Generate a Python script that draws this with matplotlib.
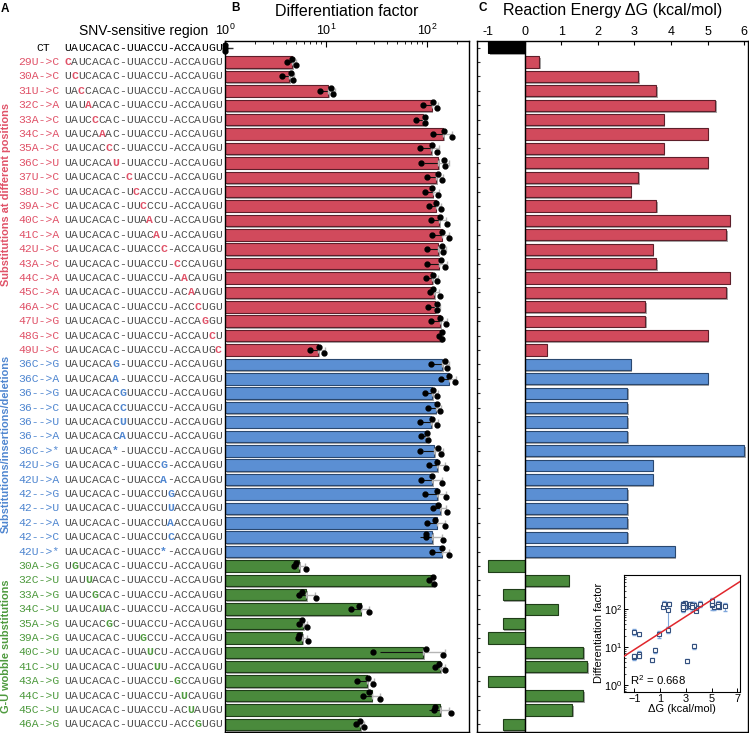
import numpy as np
import matplotlib
matplotlib.use("Agg")
import matplotlib.pyplot as plt
import matplotlib.patheffects as pe
from matplotlib.ticker import LogLocator, NullFormatter, LogFormatterSciNotation

plt.rcParams['font.family'] = ['Liberation Sans', 'DejaVu Sans']
plt.rcParams['mathtext.fontset'] = 'custom'
plt.rcParams['mathtext.rm'] = 'Liberation Sans'
plt.rcParams['mathtext.it'] = 'Liberation Sans:italic'
plt.rcParams['mathtext.bf'] = 'Liberation Sans:bold'

# ---------------- data ----------------
reference_seq = "UAUCACAC-UUACCU-ACCAUGU"

labels = ["CT",
          "29U->C", "30A->C", "31U->C", "32C->A", "33A->C", "34C->A", "35A->C",
          "36C->U", "37U->C", "38U->C", "39A->C", "40C->A", "41C->A", "42U->C",
          "43A->C", "44C->A", "45C->A", "46A->C", "47U->G", "48G->C", "49U->C",
          "36C->G", "36C->A", "36-->G", "36-->C", "36-->U", "36-->A", "36C->*",
          "42U->G", "42U->A", "42-->G", "42-->U", "42-->A", "42-->C", "42U->*",
          "30A->G", "32C->U", "33A->G", "34C->U", "35A->G", "39A->G", "40C->U",
          "41C->U", "43A->G", "44C->U", "45C->U", "46A->G"]

sequences = ["UAUCACAC-UUACCU-ACCAUGU",
             "CAUCACAC-UUACCU-ACCAUGU", "UCUCACAC-UUACCU-ACCAUGU", "UACCACAC-UUACCU-ACCAUGU",
             "UAUAACAC-UUACCU-ACCAUGU", "UAUCCCAC-UUACCU-ACCAUGU", "UAUCAAAC-UUACCU-ACCAUGU",
             "UAUCACCC-UUACCU-ACCAUGU", "UAUCACAU-UUACCU-ACCAUGU", "UAUCACAC-CUACCU-ACCAUGU",
             "UAUCACAC-UCACCU-ACCAUGU", "UAUCACAC-UUCCCU-ACCAUGU", "UAUCACAC-UUAACU-ACCAUGU",
             "UAUCACAC-UUACAU-ACCAUGU", "UAUCACAC-UUACCC-ACCAUGU", "UAUCACAC-UUACCU-CCCAUGU",
             "UAUCACAC-UUACCU-AACAUGU", "UAUCACAC-UUACCU-ACAAUGU", "UAUCACAC-UUACCU-ACCCUGU",
             "UAUCACAC-UUACCU-ACCAGGU", "UAUCACAC-UUACCU-ACCAUCU", "UAUCACAC-UUACCU-ACCAUGC",
             "UAUCACAG-UUACCU-ACCAUGU", "UAUCACAA-UUACCU-ACCAUGU", "UAUCACACGUUACCU-ACCAUGU",
             "UAUCACACCUUACCU-ACCAUGU", "UAUCACACUUUACCU-ACCAUGU", "UAUCACACAUUACCU-ACCAUGU",
             "UAUCACA*-UUACCU-ACCAUGU", "UAUCACAC-UUACCG-ACCAUGU", "UAUCACAC-UUACCA-ACCAUGU",
             "UAUCACAC-UUACCUGACCAUGU", "UAUCACAC-UUACCUUACCAUGU", "UAUCACAC-UUACCUAACCAUGU",
             "UAUCACAC-UUACCUCACCAUGU", "UAUCACAC-UUACC*-ACCAUGU",
             "UGUCACAC-UUACCU-ACCAUGU", "UAUUACAC-UUACCU-ACCAUGU", "UAUCGCAC-UUACCU-ACCAUGU",
             "UAUCAUAC-UUACCU-ACCAUGU", "UAUCACGC-UUACCU-ACCAUGU", "UAUCACAC-UUGCCU-ACCAUGU",
             "UAUCACAC-UUAUCU-ACCAUGU", "UAUCACAC-UUACUU-ACCAUGU", "UAUCACAC-UUACCU-GCCAUGU",
             "UAUCACAC-UUACCU-AUCAUGU", "UAUCACAC-UUACCU-ACUAUGU", "UAUCACAC-UUACCU-ACCGUGU"]

groups = [0] + [1] * 21 + [2] * 14 + [3] * 12
group_names = ["", "Substitutions at different positions",
               "Substitutions/insertions/deletions", "G-U wobble substitutions"]

df_mean = [1.0,
           4.6, 4.3, 10.5, 111, 90.6, 145, 109, 129, 123, 114, 122, 132, 139, 129, 130,
           113, 118, 120, 134, 138, 8.4,
           140, 164, 113, 122, 109, 97, 117, 126, 113, 125, 134, 124, 113, 139,
           5.4, 111, 6.4, 22, 5.9, 5.8, 92, 134, 25.5, 28.3, 135, 21.7]

df_reps = [[1.0, 1.0, 1.0],
           [4.07, 4.64, 5.05], [3.64, 4.48, 4.69], [8.7, 11.2, 11.8], [92, 115, 124],
           [78, 95, 95], [115, 147, 175], [85, 113, 126], [87, 148, 152], [100, 129, 139],
           [95, 113, 129], [105, 122, 137], [110, 134, 157], [113, 139, 163], [100, 141, 144],
           [100, 136, 152], [97, 115, 125], [107, 114, 133], [103, 125, 126], [110, 134, 155],
           [132, 139, 140], [6.95, 8.6, 9.5],
           [109, 152, 157], [136, 164, 191], [95, 114, 126], [102, 125, 133], [85, 112, 124],
           [88, 100, 101], [86, 128, 136], [104, 125, 154], [88, 112, 141], [95, 125, 155],
           [115, 129, 157], [100, 120, 152], [97, 97, 145], [113, 140, 163],
           [4.85, 5.05, 6.4], [104, 114, 117], [5.4, 5.8, 7.9], [17.7, 21.2, 26.6],
           [5.35, 5.8, 6.5], [5.3, 5.35, 6.6], [29.4, 98, 145], [119, 132, 150],
           [20.2, 26.1, 29.4], [23.1, 26.9, 34.2], [117, 120, 171], [19.7, 21.6, 23.6]]

dG = [-1.0,
      0.4, 3.1, 3.6, 5.2, 3.8, 5.0, 3.8, 5.0, 3.1, 2.9, 3.6, 5.6, 5.5, 3.5, 3.6,
      5.6, 5.5, 3.3, 3.3, 5.0, 0.6,
      2.9, 5.0, 2.8, 2.8, 2.8, 2.8, 6.0, 3.5, 3.5, 2.8, 2.8, 2.8, 2.8, 4.1,
      -1.0, 1.2, -0.6, 0.9, -0.6, -1.0, 1.6, 1.7, -1.0, 1.6, 1.3, -0.6]

fit_intercept = 1.15   # log10(DF) at dG = 0
fit_slope = 0.218      # log10(DF) per kcal/mol
r_squared = 0.668

# ---------------- style ----------------
face = {0: "#000000", 1: "#D14A5C", 2: "#5B8FD3", 3: "#4A8A3C"}
edge = {0: "#000000", 1: "#5E1F2A", 2: "#2A4870", 3: "#1F3D18"}
label_col = {0: "#000000", 1: "#E05268", 2: "#4F86D0", 3: "#4E9A3E"}
seq_gray = "#4d4d4d"

W, H = 749, 733
fig = plt.figure(figsize=(W / 100, H / 100), dpi=100)

def fx(px):
    return px / W

def fy(py):
    return 1 - py / H

top_px, bot_px = 40.5, 731.5
n = len(labels)
ylim = (n - 0.5, -0.5)
rows = np.arange(n)

shadow = [pe.SimplePatchShadow(offset=(1.2, -1.2), shadow_rgbFace="0.62", alpha=0.9), pe.Normal()]

# ---- Panel A (labels) ----
axA = fig.add_axes([0, fy(bot_px), fx(225), fy(top_px) - fy(bot_px)])
axA.set_xlim(0, 225)
axA.set_ylim(*ylim)
axA.axis("off")
char_w = 6.85
seq_x0 = 64.3
for i, (lab, seq, g) in enumerate(zip(labels, sequences, groups)):
    if g == 0:
        axA.text(43, i, lab, ha="center", va="center", family="Liberation Mono",
                 fontsize=8.2, color="#000000")
    else:
        axA.text(59.5, i, lab, ha="right", va="center", family="Liberation Mono",
                 fontsize=8.2, color=label_col[g])
    for k, ch in enumerate(seq):
        diff = ch != reference_seq[k]
        col = label_col[g] if diff else ("#000000" if g == 0 else seq_gray)
        axA.text(seq_x0 + (k + 0.5) * char_w, i, ch, ha="center", va="center",
                 family="Liberation Mono", fontsize=8.2, color=col,
                 fontweight="bold" if diff else "normal")

group_center_row = {1: 10.2, 2: 27.5, 3: 41.6}
for g in (1, 2, 3):
    axA.text(6, group_center_row[g], group_names[g], rotation=90, ha="center", va="center",
             fontsize=7.9, fontweight="bold", color=label_col[g])

fig.text(fx(143.5), fy(30.5), "SNV-sensitive region", ha="center", va="center", fontsize=10)
fig.text(fx(4.5), fy(9), "A", ha="center", va="center", fontsize=8.5, fontweight="bold")
fig.text(fx(235), fy(8), "B", ha="center", va="center", fontsize=8.5, fontweight="bold")
fig.text(fx(483), fy(8), "C", ha="center", va="center", fontsize=8.5, fontweight="bold")

# ---- Panel B ----
axB = fig.add_axes([fx(225), fy(bot_px), fx(469) - fx(225), fy(top_px) - fy(bot_px)])
axB.set_xscale("log")
axB.set_xlim(1, 260)
axB.set_ylim(*ylim)
bar_colors = [face[g] for g in groups]
bar_edges = [edge[g] for g in groups]
mean = np.array(df_mean, dtype=float)
bars = axB.barh(rows, mean - 1, height=0.8, left=1, color=bar_colors,
                edgecolor=bar_edges, linewidth=0.8, zorder=2)
for b in bars:
    b.set_path_effects(shadow)
reps = np.array(df_reps, dtype=float)
sd = reps.std(axis=1, ddof=1)
axB.errorbar(mean, rows, xerr=[np.minimum(sd, mean - 1e-3), np.zeros(n)], fmt="none",
             ecolor="#111111", elinewidth=0.8, capsize=0, zorder=3)
axB.errorbar(mean, rows, xerr=[np.zeros(n), sd], fmt="none",
             ecolor="#b5b5b5", elinewidth=1.0, capsize=2.2, capthick=1.0, zorder=3)
offsets = np.array([0.0, -0.22, 0.22])
for i in range(n):
    vals = np.sort(reps[i])
    axB.plot(vals, i + offsets, "o", color="black", markersize=3.5, zorder=4,
             clip_on=False)
axB.xaxis.tick_top()
axB.xaxis.set_major_locator(LogLocator(base=10, numticks=10))
axB.xaxis.set_minor_locator(LogLocator(base=10, subs=np.arange(2, 10), numticks=10))
axB.xaxis.set_major_formatter(LogFormatterSciNotation())
axB.xaxis.set_minor_formatter(NullFormatter())
axB.tick_params(axis="x", which="major", direction="in", length=4, width=0.8,
                labelsize=9, pad=2, top=True, bottom=False)
axB.tick_params(axis="x", which="minor", direction="in", length=2.5, width=0.6,
                top=True, bottom=False)
axB.set_yticks(rows)
axB.set_yticklabels([])
axB.tick_params(axis="y", direction="in", length=6, width=1.0, color="#333333")
for s in axB.spines.values():
    s.set_linewidth(1.0)
fig.text(fx(347), fy(11), "Differentiation factor", ha="center", va="center", fontsize=11.5)

# ---- Panel C ----
axC = fig.add_axes([fx(477), fy(bot_px), fx(748) - fx(477), fy(top_px) - fy(bot_px)])
axC.set_xlim(-1.3, 6.1)
axC.set_ylim(*ylim)
cbars = axC.barh(rows, dG, height=0.78, color=bar_colors, edgecolor=bar_edges,
                 linewidth=0.8, zorder=2)
for b in cbars:
    b.set_path_effects(shadow)
axC.axvline(0, color="black", linewidth=1.0, zorder=3)
axC.xaxis.tick_top()
axC.set_xticks(np.arange(-1, 7))
axC.set_xticklabels([str(v) for v in range(-1, 7)])
axC.tick_params(axis="x", direction="in", length=3, width=0.8, labelsize=9, pad=2,
                top=True, bottom=False)
axC.set_yticks(rows)
axC.set_yticklabels([])
axC.tick_params(axis="y", direction="in", length=2.5, width=0.8, color="#333333")
for s in axC.spines.values():
    s.set_linewidth(1.0)
fig.text(fx(612.5), fy(11), "Reaction Energy \u0394G (kcal/mol)", ha="center", va="center",
         fontsize=11.5)

# ---- Inset ----
axI = fig.add_axes([fx(624), fy(691.7), fx(740) - fx(624), fy(575) - fy(691.7)])
axI.set_yscale("log")
axI.set_xlim(-1.8, 7.2)
axI.set_ylim(0.67, 780)
dg_arr = np.array(dG[1:])
axI.errorbar(dg_arr, mean[1:], yerr=sd[1:], fmt="none", ecolor="#7FA6DB",
             elinewidth=0.8, capsize=1.2, zorder=2)
axI.plot(dg_arr, mean[1:], "s", markerfacecolor="white", markeredgecolor="#34507E",
         markeredgewidth=0.8, markersize=3.4, linestyle="none", zorder=3)
xl = np.array(axI.get_xlim())
axI.plot(xl, 10 ** (fit_intercept + fit_slope * xl), color="#E0262C", linewidth=1.1, zorder=4)
axI.set_xticks([-1, 1, 3, 5, 7])
axI.yaxis.set_major_locator(LogLocator(base=10, numticks=10))
axI.yaxis.set_minor_locator(LogLocator(base=10, subs=np.arange(2, 10), numticks=10))
axI.yaxis.set_major_formatter(LogFormatterSciNotation())
axI.yaxis.set_minor_formatter(NullFormatter())
axI.set_yticks([1, 10, 100])
axI.tick_params(axis="both", which="major", direction="in", length=3, width=0.7,
                labelsize=7.8, pad=1.5)
axI.tick_params(axis="y", which="minor", direction="in", length=1.6, width=0.5)
axI.set_xlabel("\u0394G (kcal/mol)", fontsize=8, labelpad=0)
axI.set_ylabel("Differentiation factor", fontsize=8, labelpad=0)
axI.text(0.05, 0.1, "R$^2$ = %.3f" % r_squared, transform=axI.transAxes, fontsize=8.2,
         ha="left", va="center")
for s in axI.spines.values():
    s.set_linewidth(0.8)

fig.savefig("out.png", dpi=100)
